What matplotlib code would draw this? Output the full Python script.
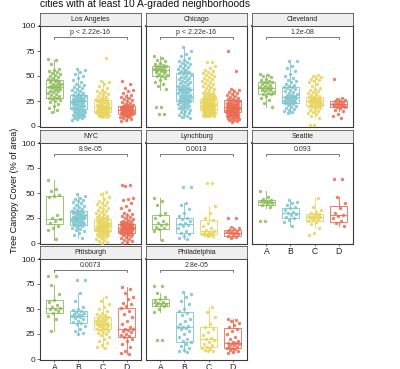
import matplotlib
matplotlib.use('Agg')
import matplotlib.pyplot as plt

plt.rcParams['font.family'] = ['Liberation Sans', 'DejaVu Sans']

# ---------------- data ----------------
title = "cities with at least 10 A-graded neighborhoods"
ylabel = "Tree Canopy Cover (% of area)"
grades = ['A', 'B', 'C', 'D']
grade_colors = ['#8DBB5A', '#7CC4CF', '#E8D45C', '#EA6A52']
cities = ['Los Angeles', 'Chicago', 'Cleveland', 'NYC', 'Lynchburg',
          'Seattle', 'Pittsburgh', 'Philadelphia']
pvalues = ['p < 2.22e-16', 'p < 2.22e-16', '1.2e-08', '8.9e-05', '0.0013',
           '0.093', '0.0073', '2.8e-05']
yticks = [0, 25, 50, 75, 100]

# box stats per grade: [whisker_low, q1, median, q3, whisker_high]
la_box = [[14, 28, 39, 46, 66], [6, 17, 25, 31, 57], [9, 14, 19, 26, 45], [5, 12, 16, 20, 32]]
chi_box = [[36, 50, 56, 60, 70], [8, 25, 37, 53, 79], [10, 16, 21, 27, 43], [4, 14, 19, 26, 37]]
cle_box = [[19, 32, 38, 44, 52], [13, 23, 29, 39, 65], [8, 20, 25, 29, 51], [15, 19, 22, 25, 28]]
nyc_box = [[3, 19, 24, 47, 63], [5, 18, 25, 32, 49], [0, 12, 17, 24, 51], [0, 10, 15, 19, 30]]
lyn_box = [[3, 14, 19, 28, 45], [4, 10, 19, 25, 40], [7, 9, 12, 23, 37], [5, 7, 10, 13, 16]]
sea_box = [[35, 38, 41, 43, 52], [17, 25, 30, 35, 43], [15, 22, 26, 29, 45], [17, 21, 28, 37, 46]]
pit_box = [[28, 46, 51, 59, 74], [25, 36, 43, 48, 66], [11, 30, 35, 42, 62], [5, 22, 30, 51, 72]]
phi_box = [[47, 53, 56, 60, 66], [7, 17, 32, 47, 67], [8, 12, 20, 32, 52], [6, 11, 16, 31, 40]]

la_pts = [
    [67, 66, 62, 57, 56, 55, 54, 53, 52, 51, 50, 49, 48, 47, 46, 46, 45, 45, 44, 43, 42, 42, 41, 40, 40,
     39, 39, 38, 38, 37, 36, 35, 35, 34, 33, 32, 31, 30, 29, 28, 28, 27, 26, 25, 24, 22, 20, 18, 16, 14],
    [57, 56, 54, 52, 50, 48, 46, 44, 42, 41, 40, 39, 38, 37, 36, 35, 34, 33, 32, 31, 31, 30, 30, 29, 29,
     28, 28, 27, 27, 26, 26, 26, 25, 25, 25, 24, 24, 23, 23, 22, 22, 21, 21, 20, 20, 19, 19, 18, 18, 17,
     17, 16, 16, 15, 15, 14, 14, 13, 13, 12, 12, 11, 11, 10, 10, 9, 8, 8, 7, 6],
    [68, 45, 44, 42, 40, 38, 36, 35, 34, 33, 32, 31, 30, 29, 28, 27, 27, 26, 26, 25, 25, 24, 24, 23, 23,
     22, 22, 21, 21, 20, 20, 20, 19, 19, 19, 18, 18, 18, 17, 17, 17, 16, 16, 16, 15, 15, 15, 14, 14, 14,
     13, 13, 13, 12, 12, 12, 11, 11, 10, 10, 9, 9],
    [45, 42, 38, 36, 35, 33, 31, 30, 29, 28, 27, 26, 25, 24, 23, 22, 21, 21, 20, 20, 20, 19, 19, 19, 18,
     18, 18, 17, 17, 17, 16, 16, 16, 16, 15, 15, 15, 14, 14, 14, 13, 13, 13, 12, 12, 12, 11, 11, 10, 10,
     9, 9, 8, 7, 6, 5],
]
chi_pts = [
    [70, 68, 66, 65, 63, 62, 61, 60, 60, 59, 58, 58, 57, 57, 56, 56, 55, 55, 54, 53, 52, 51, 50, 50, 48,
     46, 44, 42, 40, 37, 19, 19, 12, 12],
    [79, 75, 72, 70, 68, 66, 65, 64, 63, 62, 61, 60, 59, 58, 57, 56, 55, 54, 54, 53, 53, 52, 51, 50, 49,
     48, 48, 47, 46, 45, 44, 44, 43, 42, 41, 40, 40, 39, 38, 38, 37, 37, 36, 36, 35, 35, 34, 34, 33, 33,
     32, 31, 31, 30, 30, 29, 29, 28, 28, 27, 27, 26, 26, 25, 25, 24, 24, 23, 22, 22, 21, 20, 20, 19, 18,
     18, 17, 16, 15, 14, 13, 12, 11, 10, 9, 8],
    [64, 64, 60, 58, 56, 55, 54, 53, 52, 51, 50, 49, 48, 47, 46, 45, 44, 43, 42, 41, 40, 39, 38, 37, 36,
     35, 34, 33, 33, 32, 32, 31, 31, 30, 30, 29, 29, 28, 28, 28, 27, 27, 27, 26, 26, 26, 25, 25, 25, 24,
     24, 24, 23, 23, 23, 22, 22, 22, 22, 21, 21, 21, 21, 20, 20, 20, 20, 19, 19, 19, 19, 18, 18, 18, 18,
     17, 17, 17, 17, 16, 16, 16, 16, 15, 15, 15, 14, 14, 14, 13, 13, 13, 12, 12, 12, 11, 11, 11, 10, 10,
     10, 10],
    [75, 55, 37, 36, 35, 34, 33, 32, 31, 30, 29, 28, 27, 27, 26, 26, 25, 25, 24, 24, 23, 23, 22, 22, 22,
     21, 21, 21, 20, 20, 20, 19, 19, 19, 19, 18, 18, 18, 18, 17, 17, 17, 17, 16, 16, 16, 16, 15, 15, 15,
     15, 14, 14, 14, 13, 13, 13, 12, 12, 12, 11, 11, 11, 10, 10, 10, 9, 9, 8, 8, 7, 7, 6, 6, 5, 4],
]
cle_pts = [
    [52, 51, 50, 49, 47, 46, 45, 44, 44, 43, 42, 41, 40, 39, 39, 38, 38, 37, 36, 36, 35, 34, 33, 32, 32,
     30, 28, 26, 23, 19],
    [65, 65, 60, 58, 55, 52, 50, 48, 46, 45, 44, 42, 41, 40, 39, 39, 38, 37, 36, 35, 34, 33, 32, 31, 31,
     30, 30, 29, 29, 28, 28, 27, 27, 26, 26, 25, 25, 24, 24, 23, 23, 22, 21, 20, 19, 18, 17, 16, 15, 14, 13],
    [51, 50, 49, 48, 47, 46, 45, 44, 42, 40, 38, 37, 36, 35, 34, 33, 32, 31, 30, 29, 29, 28, 28, 27, 27,
     26, 26, 26, 25, 25, 25, 24, 24, 24, 23, 23, 22, 22, 21, 21, 20, 20, 19, 19, 18, 17, 16, 15, 14, 13,
     12, 10, 8, 1, 1],
    [47, 28, 27, 26, 25, 25, 24, 23, 22, 22, 22, 21, 21, 20, 20, 19, 19, 18, 16, 15, 12, 10, 8],
]
nyc_pts = [
    [63, 54, 52, 48, 47, 46, 28, 25, 24, 22, 20, 17, 15, 13, 4],
    [49, 47, 45, 44, 43, 42, 41, 40, 38, 37, 36, 35, 34, 33, 32, 32, 31, 31, 30, 30, 29, 29, 28, 28, 27,
     27, 26, 26, 26, 25, 25, 25, 24, 24, 23, 23, 22, 22, 21, 21, 20, 20, 19, 19, 18, 18, 17, 16, 15, 14,
     13, 12, 10, 8, 5],
    [51, 49, 46, 44, 42, 41, 40, 39, 38, 36, 35, 34, 33, 32, 31, 30, 29, 28, 27, 26, 26, 25, 25, 24, 24,
     23, 23, 22, 22, 21, 21, 20, 20, 20, 19, 19, 19, 18, 18, 18, 17, 17, 17, 16, 16, 16, 15, 15, 15, 14,
     14, 14, 13, 13, 13, 12, 12, 12, 11, 11, 10, 10, 9, 9, 8, 8, 7, 7, 6, 5, 4, 3, 2, 1, 0],
    [58, 58, 57, 45, 44, 43, 40, 37, 35, 33, 30, 29, 28, 27, 26, 25, 24, 23, 22, 22, 21, 21, 20, 20, 19,
     19, 19, 18, 18, 18, 17, 17, 17, 16, 16, 16, 16, 15, 15, 15, 15, 14, 14, 14, 14, 13, 13, 13, 12, 12,
     12, 11, 11, 11, 10, 10, 10, 9, 9, 8, 8, 7, 6, 5, 4, 3, 2, 1, 0],
]
lyn_pts = [
    [45, 42, 38, 30, 28, 25, 22, 20, 19, 18, 16, 15, 14, 12, 3],
    [56, 56, 40, 38, 34, 30, 27, 25, 24, 22, 20, 19, 18, 17, 15, 12, 10, 9, 7, 5, 4],
    [60, 60, 37, 30, 25, 23, 20, 17, 15, 13, 12, 11, 10, 10, 9, 9, 8, 8, 7, 7],
    [25, 25, 16, 15, 14, 13, 12, 11, 11, 10, 10, 9, 8, 7, 6, 5],
]
sea_pts = [
    [52, 46, 44, 43, 42, 42, 41, 41, 40, 39, 38, 36, 22, 22],
    [43, 41, 40, 38, 36, 35, 33, 31, 30, 29, 28, 26, 25, 23, 21, 17],
    [45, 36, 33, 31, 30, 29, 28, 27, 27, 26, 26, 25, 25, 24, 23, 22, 21, 19, 15, 10, 8],
    [64, 64, 46, 40, 35, 30, 28, 27, 25, 22, 20, 17],
]
pit_pts = [
    [83, 83, 74, 65, 59, 57, 54, 52, 51, 50, 50, 48, 46, 43, 40, 28],
    [79, 79, 66, 58, 52, 50, 49, 48, 47, 46, 45, 45, 44, 43, 43, 42, 41, 40, 38, 37, 36, 35, 33, 30, 28,
     26, 25],
    [62, 58, 55, 52, 50, 48, 46, 45, 44, 43, 42, 41, 40, 40, 39, 38, 38, 37, 36, 36, 35, 35, 34, 34, 33,
     33, 32, 31, 30, 30, 29, 28, 27, 26, 25, 24, 22, 20, 18, 16, 14, 12, 11],
    [72, 70, 66, 62, 60, 56, 55, 53, 51, 48, 45, 42, 38, 35, 32, 30, 30, 29, 28, 27, 25, 24, 23, 22, 20,
     18, 15, 12, 8, 6, 5],
]
phi_pts = [
    [73, 73, 66, 62, 60, 58, 57, 56, 55, 55, 54, 53, 50, 47, 19, 19],
    [67, 65, 62, 58, 55, 50, 48, 46, 44, 40, 38, 35, 33, 32, 32, 31, 30, 28, 25, 22, 20, 18, 17, 15, 13,
     11, 9, 8, 7],
    [52, 47, 42, 35, 32, 30, 27, 24, 21, 20, 19, 17, 15, 14, 12, 11, 10, 9, 8, 8],
    [40, 39, 38, 36, 34, 32, 30, 28, 25, 22, 20, 18, 17, 16, 16, 15, 15, 14, 13, 12, 11, 11, 10, 9, 8,
     7, 6],
]

all_box = [la_box, chi_box, cle_box, nyc_box, lyn_box, sea_box, pit_box, phi_box]
all_pts = [la_pts, chi_pts, cle_pts, nyc_pts, lyn_pts, sea_pts, pit_pts, phi_pts]

# ---------------- layout ----------------
W, H = 400, 369
fig = plt.figure(figsize=(W / 100, H / 100), dpi=100)
col_left = [40, 146, 252]
row_top = [26, 143, 259]
pw, ph, sh = 101, 101, 13


def px_axes(left, top, w, h):
    return fig.add_axes([left / W, 1 - (top + h) / H, w / W, h / H])


fig.text(40 / W, 1 - 7 / H, title, fontsize=7.4, va='baseline', ha='left', color='#111111')
fig.text(15 / W, 1 - 190 / H, ylabel, fontsize=6.5, rotation=90, va='center', ha='center',
         color='#111111')

jit = 0.27
for k, city in enumerate(cities):
    r, c = divmod(k, 3)
    ax = px_axes(col_left[c], row_top[r], pw, ph)
    pts = all_pts[k]
    box = all_box[k]
    for g in range(4):
        col = grade_colors[g]
        wl, q1, med, q3, wh = box[g]
        st = dict(whislo=wl, q1=q1, med=med, q3=q3, whishi=wh, fliers=[])
        ax.bxp([st], positions=[g + 1], widths=0.72, showfliers=False, showcaps=False,
               patch_artist=True,
               boxprops=dict(facecolor='white', edgecolor=col, linewidth=0.6),
               medianprops=dict(color=col, linewidth=0.6),
               whiskerprops=dict(color=col, linewidth=0.6),
               manage_ticks=False, zorder=2)
        vals = pts[g]
        xs = [g + 1 + ((((i * 0.618034 + 0.37 * g) % 1.0) - 0.5) * 2 * jit) for i in range(len(vals))]
        ax.scatter(xs, vals, s=6, color=col, alpha=0.85, linewidths=0, zorder=3)
    # bracket + p value
    ax.plot([1, 1, 4, 4], [87, 89, 89, 87], color='#444444', lw=0.5, zorder=4)
    ax.text(2.5, 89.6, pvalues[k], fontsize=5, ha='center', va='bottom', color='#333333')
    ax.set_xlim(0.4, 4.6)
    ax.set_ylim(-1, 100)
    ax.set_xticks([1, 2, 3, 4])
    ax.set_yticks(yticks)
    for s in ax.spines.values():
        s.set_color('#3a3a3a')
        s.set_linewidth(0.8)
    ax.spines['top'].set_color('black')
    ax.spines['top'].set_linewidth(1.2)
    show_x = (r == 2) or (r == 1 and c == 2)
    ax.tick_params(axis='both', length=2, width=0.5, color='#333333', pad=1.5)
    if show_x:
        ax.tick_params(axis='x', pad=0.5, length=1.5)
        ax.set_xticklabels(grades, fontsize=6.2, color='#222222')
    else:
        ax.tick_params(axis='x', length=0)
        ax.set_xticklabels([])
    if c == 0:
        ax.set_yticklabels([str(v) for v in yticks], fontsize=6, color='#222222')
    else:
        ax.tick_params(axis='y', length=0)
        ax.set_yticklabels([])
    # strip
    sax = px_axes(col_left[c], row_top[r] - sh, pw, sh)
    sax.set_facecolor('#EFEFEF')
    sax.set_xticks([])
    sax.set_yticks([])
    for s in sax.spines.values():
        s.set_color('#555555')
        s.set_linewidth(0.6)
    sax.text(0.5, 0.5, city, fontsize=5, ha='center', va='center', color='#222222',
             transform=sax.transAxes)

fig.savefig('out.png', dpi=100)
